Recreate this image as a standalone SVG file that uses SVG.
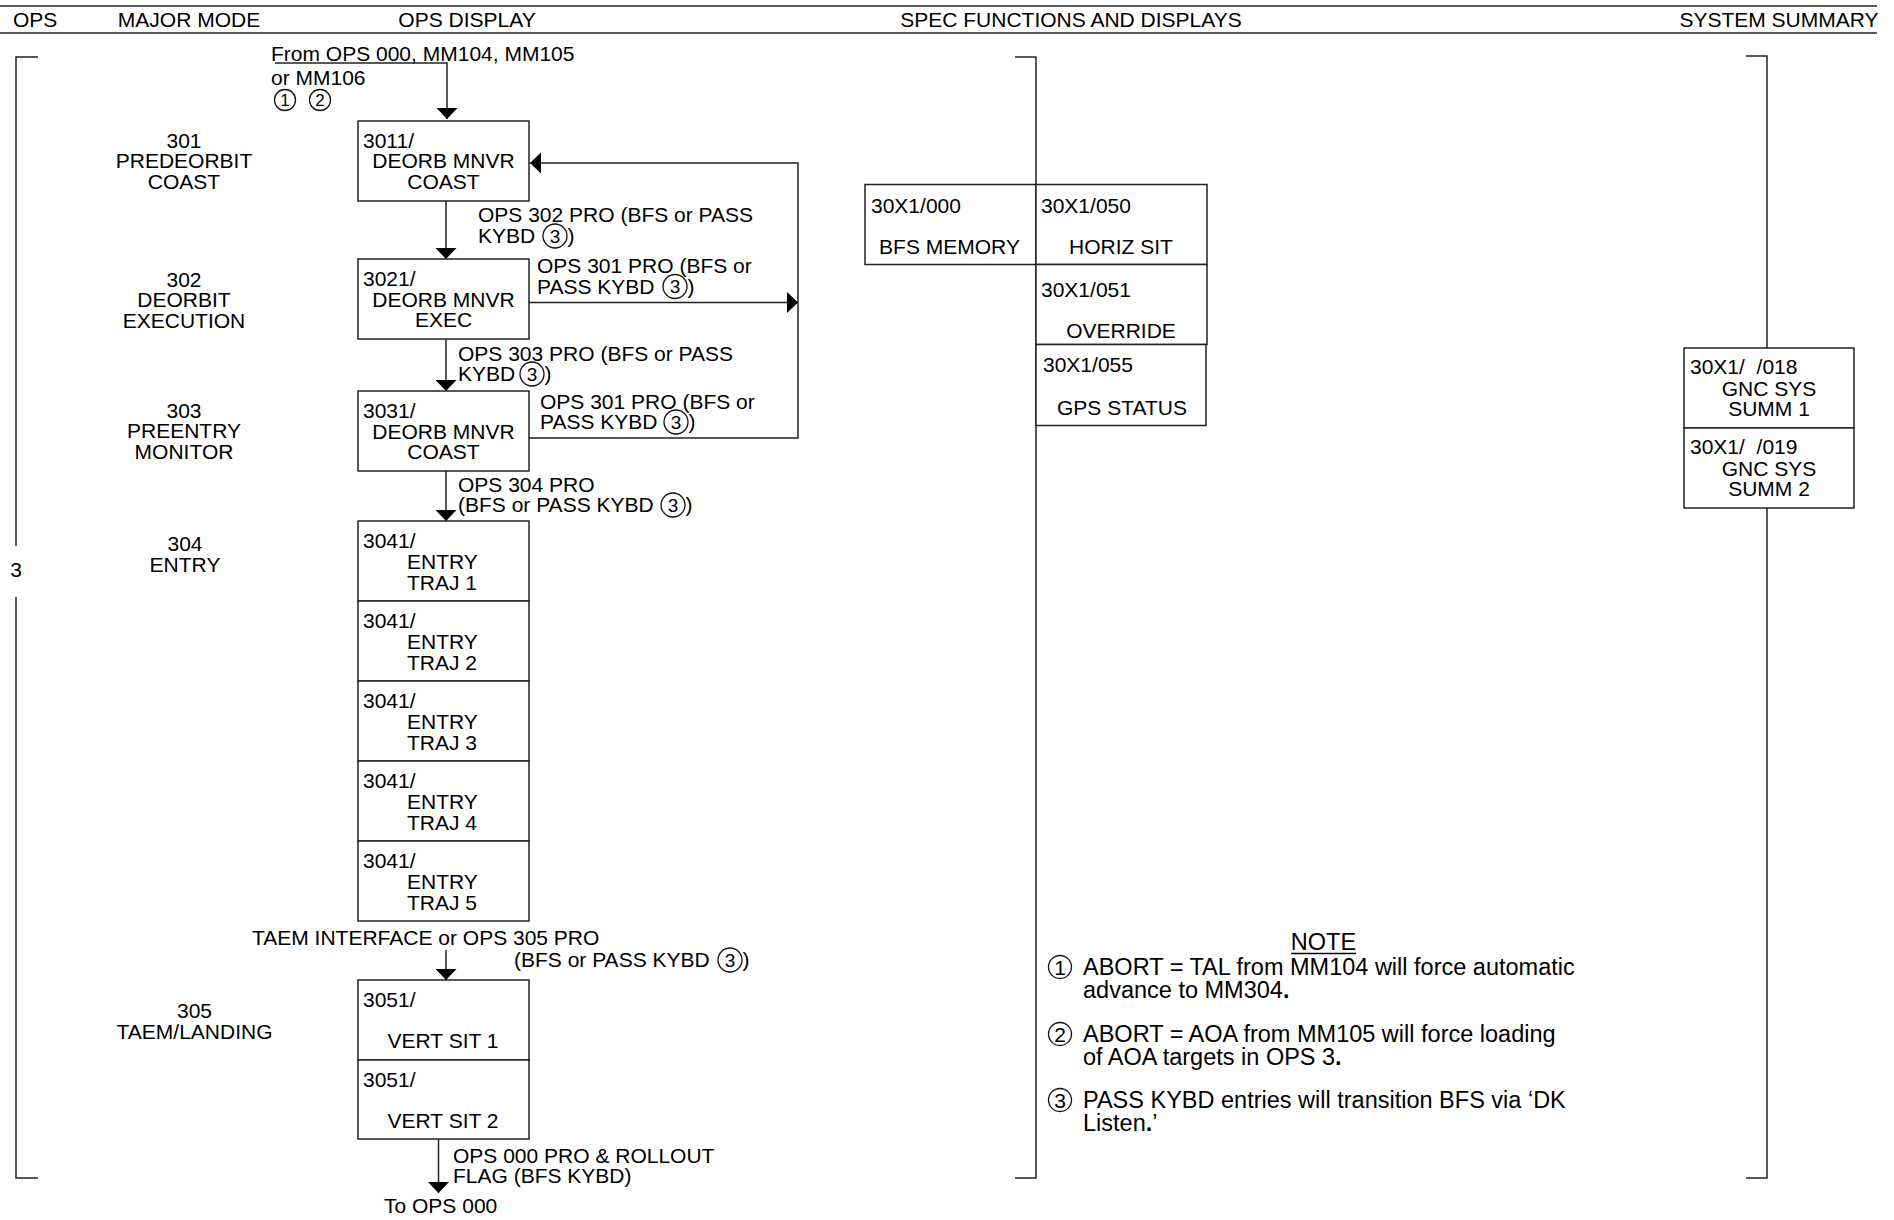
<svg xmlns="http://www.w3.org/2000/svg" width="1894" height="1220" viewBox="0 0 1894 1220">
<style>
text { font-family: 'Liberation Sans', Arial, Helvetica, sans-serif; font-size: 21px; fill: #000; }
.c { text-anchor: middle; }
.n { font-size: 23.5px; }
.d { font-size: 19px; text-anchor: middle; }
.ds { font-size: 17px; text-anchor: middle; }
.dn { font-size: 21px; text-anchor: middle; }
.box { fill: #fff; stroke: #222; stroke-width: 1.5; }
.ln { fill: none; stroke: #222; stroke-width: 1.5; }
.circ { fill: none; stroke: #111; stroke-width: 1.3; }
</style>
<defs>
<marker id="ah" viewBox="0 0 11 21" refX="11" refY="10.5" markerWidth="11" markerHeight="21" markerUnits="userSpaceOnUse" orient="auto">
<path d="M0,0 L11,10.5 L0,21 z" fill="#000"/>
</marker>
</defs>
<rect width="1894" height="1220" fill="#fff"/>

<g id="header">
<line class="ln" x1="0" y1="6" x2="1877" y2="6"/>
<line class="ln" x1="0" y1="33" x2="1877" y2="33"/>
<text x="13" y="27">OPS</text>
<text class="c" x="189" y="27">MAJOR MODE</text>
<text class="c" x="467" y="27">OPS DISPLAY</text>
<text class="c" x="1071" y="27">SPEC FUNCTIONS AND DISPLAYS</text>
<text class="c" x="1779" y="27">SYSTEM SUMMARY</text>
</g>

<g id="brackets">
<path class="ln" d="M38,57 H16 V546 M16,597 V1178 H38"/>
<text class="c" x="16" y="577">3</text>
<path class="ln" d="M1015,57 H1036 V1178 H1015"/>
<path class="ln" d="M1746,56 H1767 V1178 H1746"/>
</g>

<g id="major-modes">
<text class="c" x="184" y="148">301</text>
<text class="c" x="184" y="168">PREDEORBIT</text>
<text class="c" x="184" y="189">COAST</text>
<text class="c" x="184" y="287">302</text>
<text class="c" x="184" y="307">DEORBIT</text>
<text class="c" x="184" y="328">EXECUTION</text>
<text class="c" x="184" y="418">303</text>
<text class="c" x="184" y="438">PREENTRY</text>
<text class="c" x="184" y="459">MONITOR</text>
<text class="c" x="185" y="551">304</text>
<text class="c" x="185" y="572">ENTRY</text>
<text class="c" x="194.5" y="1018">305</text>
<text class="c" x="194.5" y="1039">TAEM/LANDING</text>
</g>

<g id="connectors">
<path class="ln" d="M275,63 H447 V119" marker-end="url(#ah)"/>
<path class="ln" d="M446,201 V259" marker-end="url(#ah)"/>
<path class="ln" d="M529,302.5 H798" marker-end="url(#ah)"/>
<path class="ln" d="M529,438 H798 V163 H530" marker-end="url(#ah)"/>
<path class="ln" d="M446,339 V391" marker-end="url(#ah)"/>
<path class="ln" d="M446,471 V521" marker-end="url(#ah)"/>
<path class="ln" d="M446,950 V980" marker-end="url(#ah)"/>
<path class="ln" d="M438.5,1139 V1193" marker-end="url(#ah)"/>
</g>

<g id="connector-labels">
<text x="271" y="61">From OPS 000, MM104, MM105</text>
<text x="271" y="85">or MM106</text>
<circle class="circ" cx="285" cy="100" r="10.5"/><text class="ds" x="285" y="106">1</text>
<circle class="circ" cx="320" cy="100" r="10.5"/><text class="ds" x="320" y="106">2</text>

<text x="478" y="222">OPS 302 PRO (BFS or PASS</text>
<text x="478" y="243">KYBD</text>
<circle class="circ" cx="555" cy="236" r="12"/><text class="d" x="555" y="242.8">3</text>
<text x="567.5" y="243">)</text>

<text x="537" y="273">OPS 301 PRO (BFS or</text>
<text x="537" y="293.5">PASS KYBD</text>
<circle class="circ" cx="675" cy="286.5" r="12"/><text class="d" x="675" y="293.3">3</text>
<text x="687.5" y="293.5">)</text>

<text x="458" y="361">OPS 303 PRO (BFS or PASS</text>
<text x="458" y="381">KYBD</text>
<circle class="circ" cx="532" cy="374" r="12"/><text class="d" x="532" y="380.8">3</text>
<text x="544.5" y="381">)</text>

<text x="540" y="409">OPS 301 PRO (BFS or</text>
<text x="540" y="429">PASS KYBD</text>
<circle class="circ" cx="676" cy="422" r="12"/><text class="d" x="676" y="428.8">3</text>
<text x="688.5" y="429">)</text>

<text x="458" y="492">OPS 304 PRO</text>
<text x="458" y="512">(BFS or PASS KYBD</text>
<circle class="circ" cx="673" cy="505" r="12"/><text class="d" x="673" y="511.8">3</text>
<text x="685.5" y="512">)</text>

<text x="252" y="945">TAEM INTERFACE or OPS 305 PRO</text>
<text x="514" y="967">(BFS or PASS KYBD</text>
<circle class="circ" cx="730" cy="960" r="12"/><text class="d" x="730" y="966.8">3</text>
<text x="742.5" y="967">)</text>

<text x="453" y="1163">OPS 000 PRO &amp; ROLLOUT</text>
<text x="453" y="1183">FLAG (BFS KYBD)</text>
<text x="384" y="1213">To OPS 000</text>
</g>

<g id="node-3011">
<rect class="box" x="358" y="121" width="171" height="80"/>
<text x="363" y="148">3011/</text>
<text class="c" x="443.5" y="168">DEORB MNVR</text>
<text class="c" x="443.5" y="189">COAST</text>
</g>
<g id="node-3021">
<rect class="box" x="358" y="259" width="171" height="80"/>
<text x="363" y="286">3021/</text>
<text class="c" x="443.5" y="306.5">DEORB MNVR</text>
<text class="c" x="443.5" y="327">EXEC</text>
</g>
<g id="node-3031">
<rect class="box" x="358" y="391" width="171" height="80"/>
<text x="363" y="418">3031/</text>
<text class="c" x="443.5" y="438.5">DEORB MNVR</text>
<text class="c" x="443.5" y="459">COAST</text>
</g>
<g id="node-3041-1">
<rect class="box" x="358" y="521" width="171" height="80"/>
<text x="363" y="548">3041/</text>
<text x="407" y="569">ENTRY</text>
<text x="407" y="590">TRAJ 1</text>
</g>
<g id="node-3041-2">
<rect class="box" x="358" y="601" width="171" height="80"/>
<text x="363" y="628">3041/</text>
<text x="407" y="649">ENTRY</text>
<text x="407" y="670">TRAJ 2</text>
</g>
<g id="node-3041-3">
<rect class="box" x="358" y="681" width="171" height="80"/>
<text x="363" y="708">3041/</text>
<text x="407" y="729">ENTRY</text>
<text x="407" y="750">TRAJ 3</text>
</g>
<g id="node-3041-4">
<rect class="box" x="358" y="761" width="171" height="80"/>
<text x="363" y="788">3041/</text>
<text x="407" y="809">ENTRY</text>
<text x="407" y="830">TRAJ 4</text>
</g>
<g id="node-3041-5">
<rect class="box" x="358" y="841" width="171" height="80"/>
<text x="363" y="868">3041/</text>
<text x="407" y="889">ENTRY</text>
<text x="407" y="910">TRAJ 5</text>
</g>
<g id="node-3051-1">
<rect class="box" x="358" y="980" width="171" height="80"/>
<text x="363" y="1007">3051/</text>
<text class="c" x="443" y="1048">VERT SIT 1</text>
</g>
<g id="node-3051-2">
<rect class="box" x="358" y="1060" width="171" height="79"/>
<text x="363" y="1087">3051/</text>
<text class="c" x="443" y="1128">VERT SIT 2</text>
</g>

<g id="node-bfs-memory">
<rect class="box" x="865" y="184.5" width="171" height="80"/>
<text x="871" y="213">30X1/000</text>
<text class="c" x="949.5" y="254">BFS MEMORY</text>
</g>
<g id="node-horiz-sit">
<rect class="box" x="1036" y="184.5" width="171" height="80"/>
<text x="1041" y="213">30X1/050</text>
<text class="c" x="1121" y="254">HORIZ SIT</text>
</g>
<g id="node-override">
<rect class="box" x="1036" y="264.5" width="171" height="80"/>
<text x="1041" y="296.5">30X1/051</text>
<text class="c" x="1121" y="338">OVERRIDE</text>
</g>
<g id="node-gps-status">
<rect class="box" x="1036" y="344.5" width="170" height="81"/>
<text x="1043" y="372">30X1/055</text>
<text class="c" x="1122" y="415">GPS STATUS</text>
</g>

<g id="node-gnc-summ-1">
<rect class="box" x="1684" y="348" width="170" height="80"/>
<text x="1690" y="374" xml:space="preserve">30X1/  /018</text>
<text class="c" x="1769" y="396">GNC SYS</text>
<text class="c" x="1769" y="416">SUMM 1</text>
</g>
<g id="node-gnc-summ-2">
<rect class="box" x="1684" y="428" width="170" height="80"/>
<text x="1690" y="454" xml:space="preserve">30X1/  /019</text>
<text class="c" x="1769" y="476">GNC SYS</text>
<text class="c" x="1769" y="496">SUMM 2</text>
</g>

<g id="notes">
<text class="n c" x="1323.5" y="950">NOTE</text>
<line x1="1291" y1="953.5" x2="1356" y2="953.5" stroke="#000" stroke-width="1.3"/>
<circle class="circ" cx="1060" cy="967" r="11.5"/><text class="dn" x="1060" y="974.5">1</text>
<text class="n" x="1083" y="975">ABORT = TAL from MM104 will force automatic</text>
<text class="n" x="1083" y="998">advance to MM304<tspan font-weight="bold">.</tspan></text>
<circle class="circ" cx="1060" cy="1034" r="11.5"/><text class="dn" x="1060" y="1041.5">2</text>
<text class="n" x="1083" y="1042">ABORT = AOA from MM105 will force loading</text>
<text class="n" x="1083" y="1065">of AOA targets in OPS 3<tspan font-weight="bold">.</tspan></text>
<circle class="circ" cx="1060" cy="1100" r="11.5"/><text class="dn" x="1060" y="1107.5">3</text>
<text class="n" x="1083" y="1108">PASS KYBD entries will transition BFS via ‘DK</text>
<text class="n" x="1083" y="1131">Listen<tspan font-weight="bold">.</tspan>’</text>
</g>
</svg>
